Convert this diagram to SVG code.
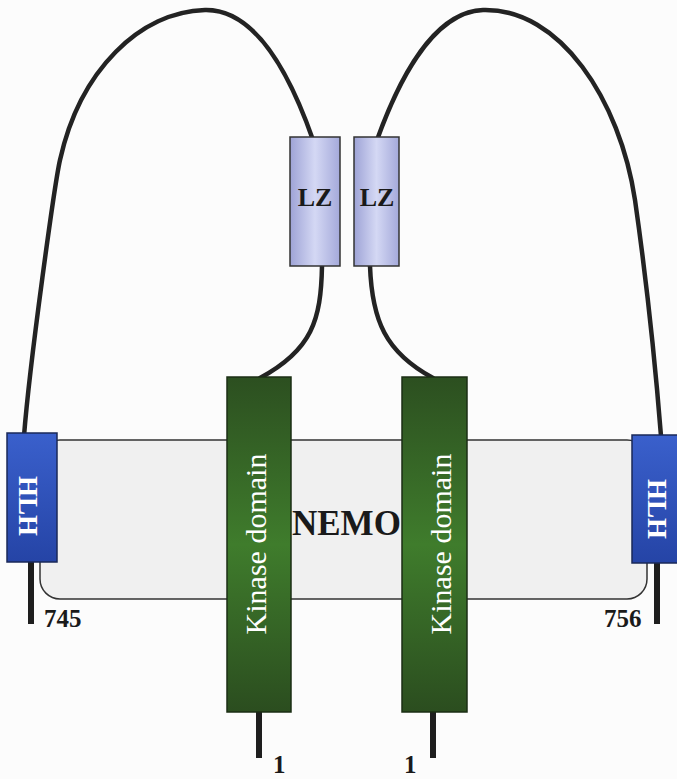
<svg xmlns="http://www.w3.org/2000/svg" width="677" height="779" viewBox="0 0 677 779">
<defs>
<linearGradient id="gKin" x1="0" y1="0" x2="0" y2="1">
<stop offset="0" stop-color="#2c4f20"/>
<stop offset="0.5" stop-color="#3f7c2c"/>
<stop offset="1" stop-color="#2b4d1f"/>
</linearGradient>
<linearGradient id="gHlh" x1="0" y1="0" x2="0" y2="1">
<stop offset="0" stop-color="#3a60cc"/>
<stop offset="1" stop-color="#2544a6"/>
</linearGradient>
<linearGradient id="gLz" x1="0" y1="0" x2="1" y2="0">
<stop offset="0" stop-color="#9ea3d6"/>
<stop offset="0.5" stop-color="#d4d8f4"/>
<stop offset="1" stop-color="#a4a9da"/>
</linearGradient>
</defs>
<style>
.line{fill:none;stroke:#232323;stroke-width:4.5;stroke-linecap:round}
.stem{fill:none;stroke:#1e1e1e;stroke-width:6}
.kin{fill:url(#gKin);stroke:#1b2e14;stroke-width:1.5}
.hlh{fill:url(#gHlh);stroke:#1a2858;stroke-width:1.5}
.lz{fill:url(#gLz);stroke:#333;stroke-width:1.5}
.kt{font-family:"Liberation Serif",serif;font-size:30px;fill:#fff;text-anchor:middle}
.ht{font-family:"Liberation Serif",serif;font-size:27px;font-weight:bold;fill:#fff;text-anchor:middle}
.lt{font-family:"Liberation Serif",serif;font-size:26px;font-weight:bold;fill:#1a1a1a;text-anchor:middle}
.num{font-family:"Liberation Serif",serif;font-size:25px;font-weight:bold;fill:#1a1a1a}
</style>
<rect x="0" y="0" width="677" height="779" fill="#fcfcfc"/>
<g id="nemo">
<rect x="40" y="440" width="607" height="159" rx="20" ry="20" fill="#f0f0f0" stroke="#333" stroke-width="1.5"/>
<text x="292" y="535" font-family="Liberation Serif, serif" font-size="35" font-weight="bold" fill="#1a1a1a">NEMO</text>
</g>
<g id="connectors">
<path class="line" d="M24,436 C30,360 55,182 60,160 C80,70 140,12 205,10 C250,9 285,60 313,140"/>
<path class="line" d="M377,140 C395,90 430,12 483,10 C560,8 620,100 635,200 C645,270 655,360 661,436"/>
<path class="line" d="M322,266 C321,320 312,350 260,378"/>
<path class="line" d="M370,266 C372,320 385,352 433,378"/>
<line class="stem" x1="31" y1="562" x2="31" y2="624"/>
<line class="stem" x1="657" y1="563" x2="657" y2="624"/>
<line class="stem" x1="259" y1="712" x2="259" y2="758"/>
<line class="stem" x1="433" y1="712" x2="433" y2="758"/>
</g>
<g id="hlh-left">
<rect class="hlh" x="7" y="433" width="50" height="129"/>
<text class="ht" transform="translate(19,506) rotate(90)">HLH</text>
</g>
<g id="hlh-right">
<rect class="hlh" x="632" y="435" width="50" height="128"/>
<text class="ht" transform="translate(648,509) rotate(90)">HLH</text>
</g>
<g id="lz-left">
<rect class="lz" x="290" y="137" width="50" height="129"/>
<text class="lt" x="315" y="206">LZ</text>
</g>
<g id="lz-right">
<rect class="lz" x="354" y="137" width="45" height="129"/>
<text class="lt" x="377" y="206">LZ</text>
</g>
<g id="kinase-left">
<rect class="kin" x="227" y="377" width="64" height="335"/>
<text class="kt" transform="translate(266,544) rotate(-90)">Kinase domain</text>
</g>
<g id="kinase-right">
<rect class="kin" x="402" y="377" width="65" height="335"/>
<text class="kt" transform="translate(451,544) rotate(-90)">Kinase domain</text>
</g>
<g id="labels">
<text class="num" x="44" y="627">745</text>
<text class="num" x="604" y="627">756</text>
<text class="num" x="273" y="773" font-size="24">1</text>
<text class="num" x="404" y="773" font-size="24">1</text>
</g>
</svg>
